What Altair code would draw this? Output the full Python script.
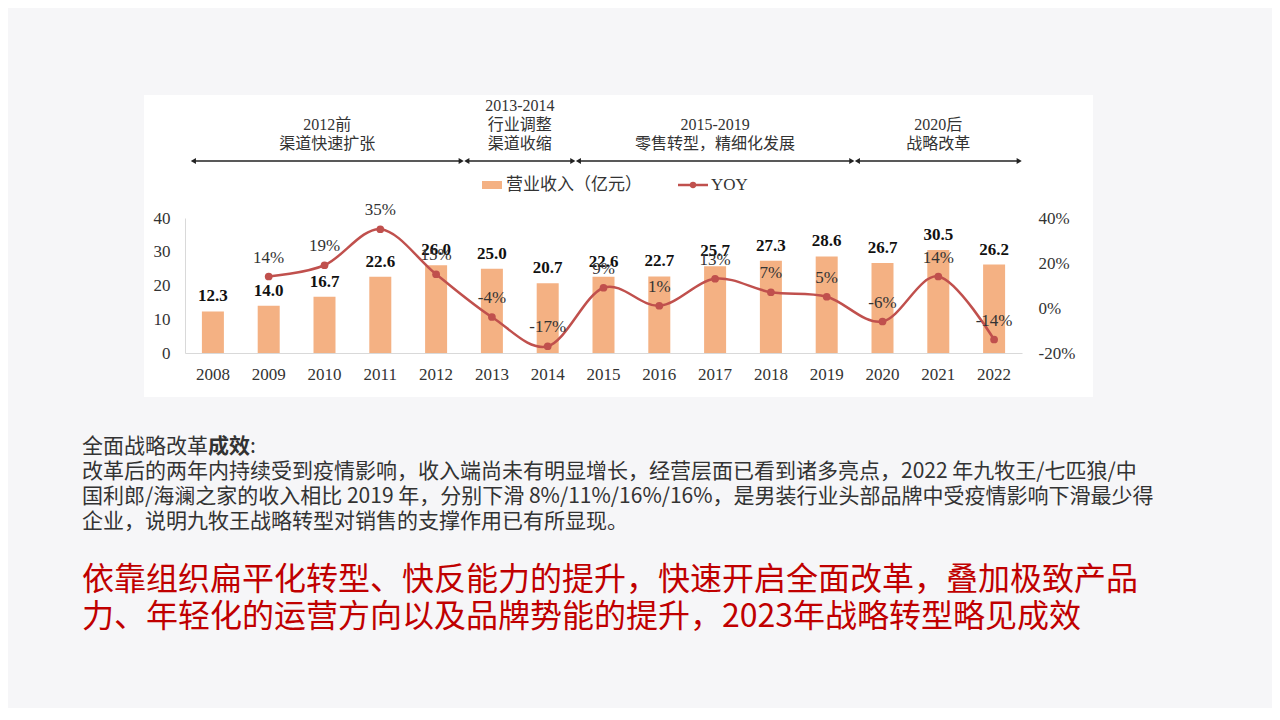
import altair as alt
import pandas as pd

# ---------------- data ----------------
years = [str(y) for y in range(2008, 2023)]
revenue = [12.3, 14.0, 16.7, 22.6, 26.0, 25.0, 20.7, 22.6, 22.7, 25.7, 27.3, 28.6, 26.7, 30.5, 26.2]
yoy = [None, 14, 19, 35, 15, -4, -17, 9, 1, 13, 7, 5, -6, 14, -14]

period_lines = [
    ["2012前", "渠道快速扩张"],
    ["2013-2014", "行业调整", "渠道收缩"],
    ["2015-2019", "零售转型，精细化发展"],
    ["2020后", "战略改革"],
]
period_start = ["2008", "2013", "2015", "2020"]
period_end = ["2012", "2014", "2019", "2022"]

legend_bar = "营业收入（亿元）"
legend_line = "YOY"

body_title = ["全面战略改革", "成效", ":"]
body_lines = [
    "改革后的两年内持续受到疫情影响，收入端尚未有明显增长，经营层面已看到诸多亮点，2022 年九牧王/七匹狼/中",
    "国利郎/海澜之家的收入相比 2019 年，分别下滑 8%/11%/16%/16%，是男装行业头部品牌中受疫情影响下滑最少得",
    "企业，说明九牧王战略转型对销售的支撑作用已有所显现。",
]
headline = [
    "依靠组织扁平化转型、快反能力的提升，快速开启全面改革，叠加极致产品",
    "力、年轻化的运营方向以及品牌势能的提升，2023年战略转型略见成效",
]

# ---------------- style ----------------
SERIF = "Liberation Serif, Noto Sans CJK SC"
SANS = "Noto Sans CJK SC"
BAR = "#F4B183"
RED = "#C0504D"
TXT = "#333333"
W, H = 837, 135

df = pd.DataFrame({"year": years, "rev": revenue, "yoy": yoy})
df_yoy = df.dropna().copy()

one = pd.DataFrame({"a": [0]})


def txt(s, x, y, **kw):
    return alt.Chart(one).mark_text(align="left", baseline="middle", **kw).encode(
        x=alt.value(x), y=alt.value(y), text=alt.value(s)
    )


# background card for the chart image
card = alt.Chart(one).mark_rect(color="white").encode(
    x=alt.value(-41), x2=alt.value(908), y=alt.value(-123), y2=alt.value(179)
)

x_enc = alt.X(
    "year:N",
    sort=years,
    scale=alt.Scale(paddingInner=0.6, paddingOuter=0.3),
    axis=alt.Axis(
        title=None, labelAngle=0, ticks=False, domainColor="#d9d9d9",
        labelFont=SERIF, labelFontSize=17, labelColor=TXT, labelPadding=13,
        zindex=1,
    ),
)

y_left = alt.Y(
    "rev:Q",
    scale=alt.Scale(domain=[0, 40]),
    axis=alt.Axis(
        title=None, values=[0, 10, 20, 30, 40], ticks=False, grid=False,
        domainColor="#d9d9d9", labelFont=SERIF, labelFontSize=17,
        labelColor=TXT, labelPadding=15, zindex=1,
    ),
)

y_right = alt.Y(
    "yoy:Q",
    scale=alt.Scale(domain=[-20, 40]),
    axis=alt.Axis(
        orient="right", title=None, values=[-20, 0, 20, 40], ticks=False,
        grid=False, domain=False, labelExpr="datum.value + '%'",
        labelFont=SERIF, labelFontSize=17, labelColor=TXT, labelPadding=16,
        zindex=1,
    ),
)

bars = alt.Chart(df).mark_bar(color=BAR, size=22).encode(x=x_enc, y=y_left)
bar_text = alt.Chart(df).mark_text(
    dy=-15, baseline="middle", font=SERIF, fontSize=17, fontWeight="bold", color="#111"
).encode(x=x_enc, y=y_left, text=alt.Text("rev:Q", format=".1f"))

line = alt.Chart(df_yoy).mark_line(color=RED, strokeWidth=2.5, interpolate="cardinal").encode(
    x=x_enc, y=y_right
)
pts = alt.Chart(df_yoy).mark_circle(color=RED, size=60, opacity=1).encode(x=x_enc, y=y_right)
yoy_text = (
    alt.Chart(df_yoy)
    .transform_calculate(lab="datum.yoy + '%'")
    .mark_text(dy=-19, baseline="middle", font=SERIF, fontSize=17, color=TXT)
    .encode(x=x_enc, y=y_right, text="lab:N")
)

main = alt.layer(
    alt.layer(bars, bar_text),
    alt.layer(line, pts, yoy_text),
).resolve_scale(y="independent")

# ---------------- period arrows ----------------
rows = []
for lines, s, e in zip(period_lines, period_start, period_end):
    x0 = years.index(s) + (0.15 if s == years[0] else 0.05)
    x1 = years.index(e) + 1 - 0.05
    rows.append({"x0": x0, "x1": x1, "mid": (x0 + x1) / 2, "lines": lines})
df_p = pd.DataFrame(rows)
xs = alt.Scale(domain=[0, len(years)], nice=False, zero=False)
ARROW_Y = -57

arr_rule = alt.Chart(df_p).mark_rule(color="#222", strokeWidth=1.3).encode(
    x=alt.X("x0:Q", scale=xs, axis=None), x2="x1:Q", y=alt.value(ARROW_Y)
)
arr_l = alt.Chart(df_p).mark_point(shape="triangle-left", filled=True, size=35, color="#222", opacity=1).encode(
    x=alt.X("x0:Q", scale=xs, axis=None), y=alt.value(ARROW_Y)
)
arr_r = alt.Chart(df_p).mark_point(shape="triangle-right", filled=True, size=35, color="#222", opacity=1).encode(
    x=alt.X("x1:Q", scale=xs, axis=None), y=alt.value(ARROW_Y)
)

lab_rows = []
for r in rows:
    n = len(r["lines"])
    for i, s in enumerate(r["lines"]):
        lab_rows.append({"mid": r["mid"], "t": s, "k": n - 1 - i})
df_lab = pd.DataFrame(lab_rows)
period_texts = []
for k in range(3):
    period_texts.append(
        alt.Chart(df_lab)
        .transform_filter(f"datum.k == {k}")
        .mark_text(baseline="middle", font=SERIF, fontSize=16, color=TXT)
        .encode(x=alt.X("mid:Q", scale=xs, axis=None), y=alt.value(-74 - 19 * k), text="t:N")
    )

arrows = alt.layer(arr_rule, arr_l, arr_r, *period_texts)

# ---------------- legend ----------------
leg_rect = alt.Chart(one).mark_rect(color=BAR).encode(
    x=alt.value(297), x2=alt.value(317), y=alt.value(-37), y2=alt.value(-29)
)
leg_rule = alt.Chart(one).mark_rule(color=RED, strokeWidth=2.5).encode(
    x=alt.value(493), x2=alt.value(523), y=alt.value(-33)
)
leg_dot = alt.Chart(one).mark_circle(color=RED, size=40, opacity=1).encode(
    x=alt.value(508), y=alt.value(-33)
)
leg_t1 = txt(legend_bar, 321, -33, font=SERIF, fontSize=17, color=TXT)
leg_t2 = txt(legend_line, 526, -33, font=SERIF, fontSize=17, color=TXT)

# ---------------- slide text ----------------
BX = -103
t_title = [
    txt(body_title[0], BX, 229, font=SANS, fontSize=21, color=TXT),
    txt(body_title[1], BX + 126, 229, font=SANS, fontSize=21, fontWeight="bold", color=TXT),
    txt(body_title[2], BX + 168, 229, font=SANS, fontSize=21, color=TXT),
]
t_body = [txt(s, BX, 254 + 25 * i, font=SANS, fontSize=21, color=TXT) for i, s in enumerate(body_lines)]
t_head = [txt(s, BX, 362 + 37 * i, font=SANS, fontSize=32, color="#C00000") for i, s in enumerate(headline)]

chart = (
    alt.layer(
        card, main, arrows, leg_rect, leg_rule, leg_dot, leg_t1, leg_t2,
        *t_title, *t_body, *t_head,
    )
    .resolve_scale(x="independent", y="independent")
    .properties(
        width=W,
        height=H,
        autosize=alt.AutoSizeParams(type="none"),
        padding={"left": 177, "top": 210, "right": 250, "bottom": 355},
        background="#f6f6f8",
    )
    .configure_view(stroke=None)
)

chart.save("out.html", embed_options={"renderer": "svg", "actions": False})
